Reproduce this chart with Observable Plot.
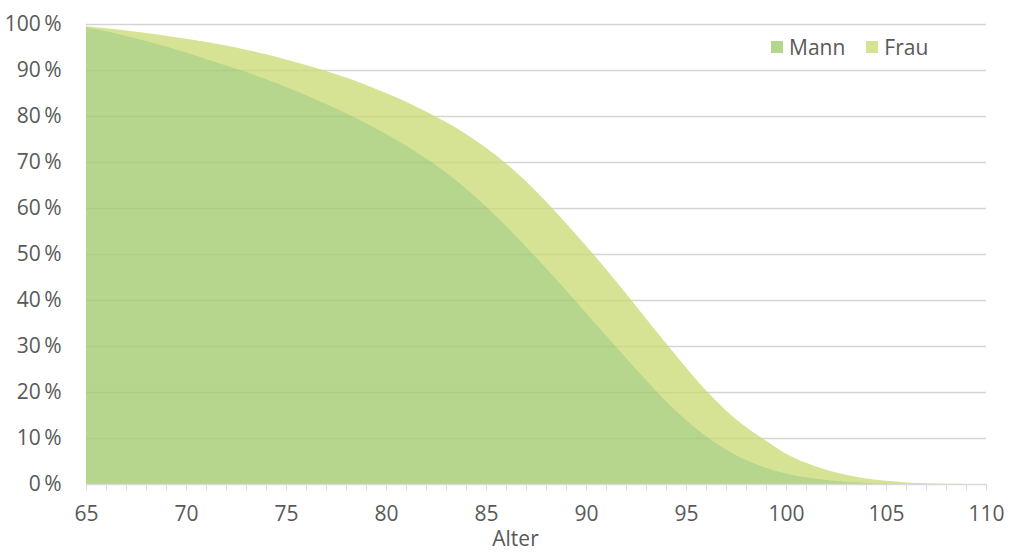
<!DOCTYPE html>
<html>
<head>
<meta charset="utf-8">
<script src="https://cdn.jsdelivr.net/npm/d3@7"></script>
<script src="https://cdn.jsdelivr.net/npm/@observablehq/plot@0.6"></script>
<style>
  html, body { margin: 0; padding: 0; background: #fff; }
  #wrap { position: relative; width: 1024px; height: 553px; font-family: "Open Sans", sans-serif; }
  .legend { position: absolute; top: 33px; left: 771px; display: flex; align-items: center; font-size: 21px; color: #595959; }
  .legend .sw { width: 12px; height: 12px; display: inline-block; margin-right: 6px; }
  .legend .item { display: flex; align-items: center; margin-right: 21px; }
</style>
</head>
<body>
<div id="wrap"></div>
<script>
const ages = d3.range(65, 111);
const mann = [99.3, 98.4, 97.4, 96.3, 95.1, 93.8, 92.4, 91.0, 89.55, 88.0, 86.3, 84.5, 82.6, 80.6, 78.45, 76.1, 73.55, 70.8, 67.7, 64.2, 60.3, 56.1, 51.6, 46.9, 42.1, 37.2, 32.3, 27.4, 22.6, 18.0, 13.9, 10.4, 7.5, 5.2, 3.5, 2.3, 1.45, 0.85, 0.47, 0.24, 0.11, 0.05, 0.02, 0, 0, 0];
const frau = [99.5, 99.1, 98.6, 98.05, 97.45, 96.8, 96.1, 95.3, 94.4, 93.4, 92.3, 91.1, 89.8, 88.35, 86.75, 85.0, 83.1, 81.0, 78.7, 76.1, 73.1, 69.7, 65.8, 61.4, 56.7, 51.8, 46.7, 41.4, 36.0, 30.6, 25.3, 20.3, 16.0, 12.4, 9.4, 6.6, 4.6, 3.1, 2.0, 1.2, 0.68, 0.35, 0.15, 0.05, 0.01, 0];
const yTicks = d3.range(0, 101, 10);
const xTicks = d3.range(65, 111, 5);
const seriesNames = ["Mann", "Frau"];
const seriesColors = ["#b5d68c", "#d6e394"];

const rowsM = ages.map((a, i) => ({age: a, value: mann[i]}));
const rowsF = ages.map((a, i) => ({age: a, value: frau[i]}));

const chart = Plot.plot({
  width: 1024,
  height: 553,
  marginLeft: 86,
  marginRight: 38,
  marginTop: 24,
  marginBottom: 69,
  style: {fontFamily: "Open Sans, sans-serif", fontSize: "21px", color: "#595959", background: "#fff"},
  x: {domain: [65, 110]},
  y: {domain: [0, 100]},
  marks: [
    Plot.ruleY(yTicks.slice(1), {stroke: "#dedede", strokeWidth: 1.5}),
    Plot.areaY(rowsF, {x: "age", y: "value", fill: seriesColors[1], curve: "monotone-x"}),
    Plot.areaY(rowsM, {x: "age", y: "value", fill: seriesColors[0], curve: "monotone-x"}),
    Plot.ruleY(yTicks.slice(1), {stroke: "#000", strokeOpacity: 0.045, strokeWidth: 1.5}),
    Plot.ruleY([0], {stroke: "#d9d9d9", strokeWidth: 1.5}),
    Plot.axisY(yTicks, {tickSize: 0, tickPadding: 25, tickFormat: d => d + "\u2009%", fill: "#595959", fontSize: 21, label: null}),
    Plot.axisX(ages, {tickSize: 6, stroke: "#d9d9d9", tickFormat: () => "", label: null}),
    Plot.axisX(xTicks, {tickSize: 0, tickPadding: 22, tickFormat: d => String(d), fill: "#595959", fontSize: 21, label: null}),
    Plot.text(["Alter"], {frameAnchor: "bottom", dx: -21, dy: 61, fill: "#595959", fontSize: 21})
  ]
});

const wrap = document.getElementById("wrap");
wrap.appendChild(chart);
const legend = document.createElement("div");
legend.className = "legend";
seriesNames.forEach((n, i) => {
  const it = document.createElement("span");
  it.className = "item";
  const sw = document.createElement("span");
  sw.className = "sw";
  sw.style.background = seriesColors[i];
  it.appendChild(sw);
  it.appendChild(document.createTextNode(n));
  legend.appendChild(it);
});
wrap.appendChild(legend);
</script>
</body>
</html>
